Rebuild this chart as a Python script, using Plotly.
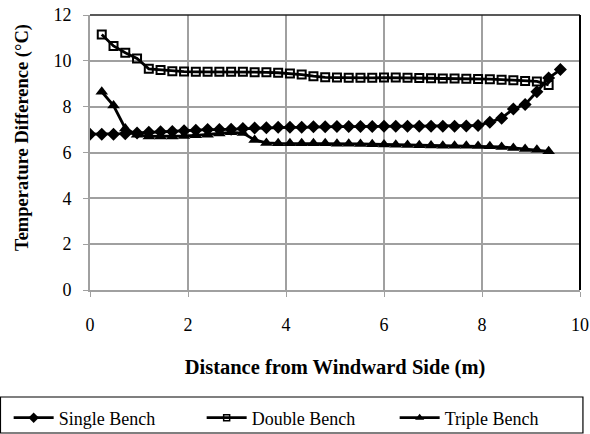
import plotly.graph_objects as go

x_single = [0, 0.24, 0.48, 0.72, 0.96, 1.2, 1.44, 1.68, 1.92, 2.16, 2.4, 2.64, 2.88, 3.12, 3.36,
            3.6, 3.84, 4.08, 4.32, 4.56, 4.8, 5.04, 5.28, 5.52, 5.76, 6.0, 6.24, 6.48, 6.72, 6.96,
            7.2, 7.44, 7.68, 7.92, 8.16, 8.4, 8.64, 8.88, 9.12, 9.36, 9.6]
single_bench = [6.8, 6.8, 6.8, 6.82, 6.85, 6.88, 6.9, 6.92, 6.95, 6.97, 7.0, 7.0, 7.02, 7.05, 7.07,
                7.08, 7.1, 7.1, 7.1, 7.12, 7.12, 7.13, 7.13, 7.14, 7.14, 7.15, 7.15, 7.15, 7.15, 7.15,
                7.15, 7.15, 7.16, 7.18, 7.32, 7.5, 7.9, 8.1, 8.65, 9.25, 9.62]

x_multi = [0.24, 0.48, 0.72, 0.96, 1.2, 1.44, 1.68, 1.92, 2.16, 2.4, 2.64, 2.88, 3.12, 3.36,
           3.6, 3.84, 4.08, 4.32, 4.56, 4.8, 5.04, 5.28, 5.52, 5.76, 6.0, 6.24, 6.48, 6.72, 6.96,
           7.2, 7.44, 7.68, 7.92, 8.16, 8.4, 8.64, 8.88, 9.12, 9.36]
double_bench = [11.15, 10.65, 10.35, 10.1, 9.65, 9.6, 9.55, 9.53, 9.52, 9.52, 9.52, 9.52, 9.52, 9.5,
                9.5, 9.48, 9.45, 9.4, 9.33, 9.28, 9.27, 9.26, 9.26, 9.26, 9.27, 9.27, 9.26, 9.25, 9.24,
                9.23, 9.23, 9.22, 9.21, 9.2, 9.18, 9.15, 9.12, 9.1, 8.95]
triple_bench = [8.65, 8.05, 7.05, 6.78, 6.7, 6.7, 6.7, 6.72, 6.75, 6.78, 6.83, 6.88, 6.85, 6.55,
                6.42, 6.4, 6.4, 6.4, 6.4, 6.4, 6.38, 6.38, 6.37, 6.36, 6.35, 6.34, 6.33, 6.32, 6.31,
                6.3, 6.3, 6.29, 6.28, 6.27, 6.24, 6.2, 6.15, 6.12, 6.05]

x_title = "Distance from Windward Side (m)"
y_title = "Temperature Difference (°C)"

FONT = "Liberation Serif"
GRID = "#a0a0a0"

series = [
    ("Single Bench", x_single, single_bench,
     dict(symbol="diamond", size=10, color="black"),
     dict(symbol="diamond", size=8, color="black")),
    ("Double Bench", x_multi, double_bench,
     dict(symbol="square-open", size=8, color="black", line=dict(width=2, color="black")),
     dict(symbol="square-open", size=6, color="black", line=dict(width=1.5, color="black"))),
    ("Triple Bench", x_multi, triple_bench,
     dict(symbol="triangle-up", size=11, color="black"),
     dict(symbol="triangle-up", size=8, color="black")),
]

fig = go.Figure()
for name, xs, ys, mk, mk_leg in series:
    fig.add_trace(go.Scatter(x=xs, y=ys, name=name, mode="lines+markers", showlegend=False,
                             line=dict(color="black", width=2.8), marker=mk))
for name, xs, ys, mk, mk_leg in series:
    fig.add_trace(go.Scatter(x=[None], y=[None], name=name, mode="lines+markers",
                             line=dict(color="black", width=2.8), marker=mk_leg,
                             hoverinfo="skip"))

fig.update_layout(
    width=590, height=434,
    margin=dict(l=90, r=10, t=15, b=144, autoexpand=False),
    paper_bgcolor="white", plot_bgcolor="white",
    font=dict(family=FONT, size=18, color="black"),
    showlegend=True,
    legend=dict(orientation="h", xref="paper", yref="paper",
                x=-0.166, xanchor="left", y=-0.4655, yanchor="middle",
                borderwidth=0, bgcolor="rgba(0,0,0,0)",
                font=dict(family=FONT, size=18), entrywidth=138, itemwidth=40,
                tracegroupgap=0),
    xaxis=dict(range=[0, 10], dtick=2, showgrid=True, gridcolor=GRID, gridwidth=1.5,
               showline=True, linecolor=GRID, linewidth=2,
               ticks="outside", ticklen=5, tickcolor=GRID, zeroline=False,
               tickfont=dict(size=18), ticklabelstandoff=12,
               title=dict(text="<b>" + x_title + "</b>", standoff=26,
                          font=dict(size=20.5))),
    yaxis=dict(range=[0, 12], dtick=2, showgrid=True, gridcolor=GRID, gridwidth=1.5,
               showline=True, linecolor=GRID, linewidth=2,
               ticks="outside", ticklen=5, tickcolor=GRID, zeroline=False,
               tickfont=dict(size=18), ticklabelstandoff=8),
    annotations=[
        dict(text="<b>" + y_title + "</b>", textangle=-90, xref="paper", yref="paper",
             x=-0.139, y=0.556, xanchor="center", yanchor="middle", showarrow=False,
             font=dict(family=FONT, size=18.5, color="black")),
    ],
    shapes=[
        dict(type="line", xref="paper", yref="paper", x0=0, x1=1, y0=1, y1=1,
             line=dict(color="#222222", width=1.5)),
        dict(type="line", xref="paper", yref="paper", x0=1, x1=1, y0=0, y1=1,
             line=dict(color="black", width=2)),
        dict(type="rect", xref="paper", yref="paper", x0=-0.1827, x1=1.006,
             y0=-0.52, y1=-0.389, line=dict(color="black", width=1.2), layer="below"),
    ],
)

fig.write_html("out.html")
